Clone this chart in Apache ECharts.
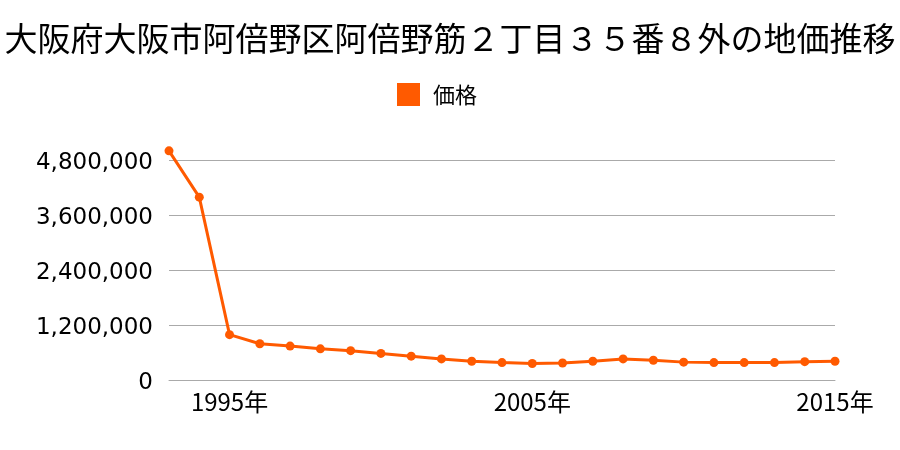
<!DOCTYPE html>
<html><head><meta charset="utf-8">
<script src="https://cdn.jsdelivr.net/npm/echarts@6/dist/echarts.min.js"></script>
<style>html,body{margin:0;padding:0;background:#fff}#c{width:900px;height:450px}</style>
</head><body><div id="c"></div>
<script>
const titleText = '大阪府大阪市阿倍野区阿倍野筋２丁目３５番８外の地価推移';
const seriesName = '価格';
const years = ['1993','1994','1995','1996','1997','1998','1999','2000','2001','2002','2003','2004','2005','2006','2007','2008','2009','2010','2011','2012','2013','2014','2015'];
const prices = [5000000,3990000,990000,790000,740000,680000,640000,580000,520000,460000,410000,380000,360000,370000,410000,460000,430000,390000,380000,380000,380000,400000,410000];
const yTicks = [0,1200000,2400000,3600000,4800000];
const labelYears = ['1995','2005','2015'];

const font = '"Noto Sans CJK JP", sans-serif';
const chart = echarts.init(document.getElementById('c'));
chart.setOption({
  animation: false,
  title: {text: titleText, left: 'center', top: 17,
    textStyle: {fontSize: 33, fontWeight: 'normal', color: '#000', fontFamily: font}},
  legend: {data: [seriesName], top: 78, left: 392, itemWidth: 23, itemHeight: 23, itemGap: 10,
    icon: 'rect', textStyle: {fontSize: 22, color: '#000', fontFamily: font, padding: [0,0,0,8]}},
  grid: {left: 169, right: 65, top: 160, bottom: 70},
  xAxis: {type: 'category', data: years, boundaryGap: false,
    axisLine: {lineStyle: {color: '#aaa', width: 1}}, axisTick: {show: false},
    axisLabel: {interval: (i, v) => labelYears.includes(v), formatter: v => v + '年',
      fontSize: 24, color: '#000', fontFamily: font, margin: 10}},
  yAxis: {type: 'value', min: yTicks[0], max: yTicks[yTicks.length-1], interval: yTicks[1]-yTicks[0],
    axisLine: {show: false}, axisTick: {show: false},
    splitLine: {lineStyle: {color: '#aaa', width: 1}},
    axisLabel: {margin: 16, formatter: v => '{a|' + v.toLocaleString('en-US') + '}',
      rich: {a: {fontSize: 23, color: '#000', fontFamily: '"DejaVu Sans", sans-serif', padding: [6,0,0,0]}}}},
  series: [{name: seriesName, type: 'line', data: prices, color: '#ff5a00', clip: false,
    symbol: 'circle', symbolSize: 9, lineStyle: {width: 3}, itemStyle: {color: '#ff5a00'}}]
});
</script></body></html>
